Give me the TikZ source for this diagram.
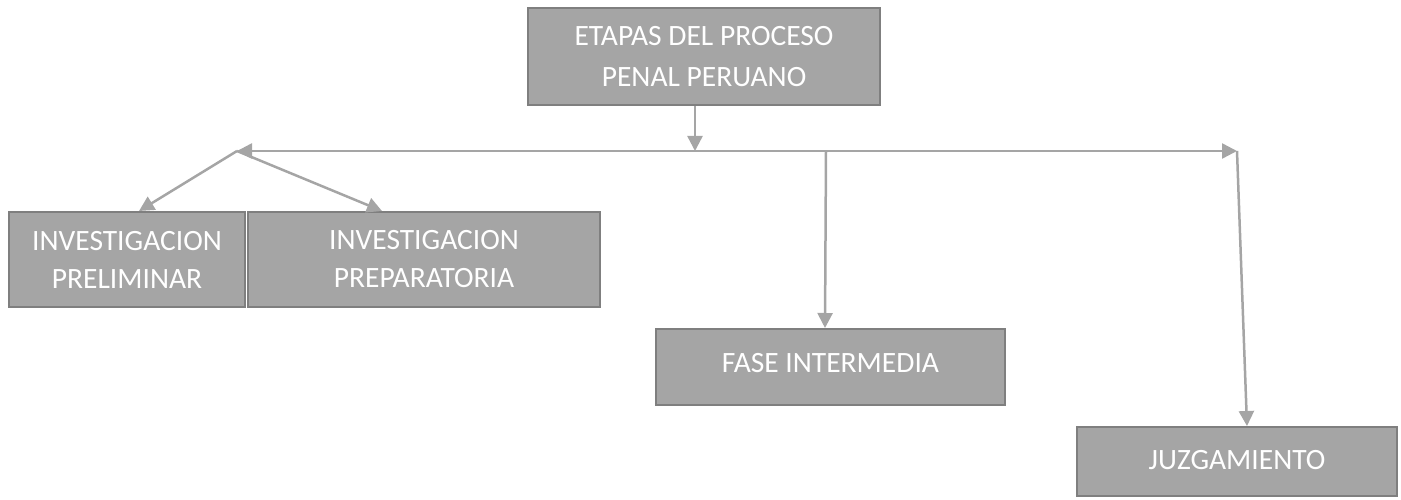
\documentclass[tikz,border=0pt]{standalone}
\usepackage{fontspec}
\setmainfont{Carlito}
\usetikzlibrary{arrows.meta,calc}
\definecolor{boxfill}{HTML}{A5A5A5}
\definecolor{boxline}{HTML}{7F7F7F}
\definecolor{arrcol}{HTML}{A5A5A5}
\tikzset{
  stagebox/.style={draw=boxline, line width=2pt, fill=boxfill, text=white, align=center,
    inner sep=0pt, font=\fontsize{29.5}{41}\selectfont},
  conn/.style={draw=arrcol, line width=2.5pt, -{Triangle[length=15pt,width=15pt]}},
}
\begin{document}
\begin{tikzpicture}[x=1pt,y=-1pt]
\useasboundingbox (0,0) rectangle (1401,500);
\node[stagebox, minimum width=352pt, minimum height=97pt] (top) at (704,56.5) {ETAPAS DEL PROCESO\\PENAL PERUANO};
\node[stagebox, minimum width=236pt, minimum height=95pt] (prel) at (127,259.5) {\raisebox{-3pt}{INVESTIGACION}\\PRELIMINAR};
\node[stagebox, minimum width=352pt, minimum height=95pt] (prep) at (424,259.5) {\raisebox{-3pt}{INVESTIGACION}\\PREPARATORIA};
\node[stagebox, minimum width=349pt, minimum height=76pt] (fase) at (830.5,367) {\raisebox{9pt}{FASE INTERMEDIA}};
\node[stagebox, minimum width=320pt, minimum height=69pt] (juz) at (1237,461.5) {\raisebox{3pt}{JUZGAMIENTO}};
\coordinate (jt) at (695,151);
\coordinate (jl) at (237,151);
\coordinate (jr) at (1237,151);
\coordinate (jf) at (826,151);
\draw[conn] ($(top.south)+(-9,0)$) -- (jt);
\draw[conn, {Triangle[length=15pt,width=15pt]}-{Triangle[length=15pt,width=15pt]}] (jl) -- (jr);
\draw[conn] (jl) -- ($(prel.north west)+(131,0)$);
\draw[conn] (jl) -- ($(prep.north west)+(135,0)$);
\draw[conn] (jf) -- ($(fase.north west)+(170,0)$);
\draw[conn] (jr) -- ($(juz.north west)+(171,0)$);
\end{tikzpicture}
\end{document}
